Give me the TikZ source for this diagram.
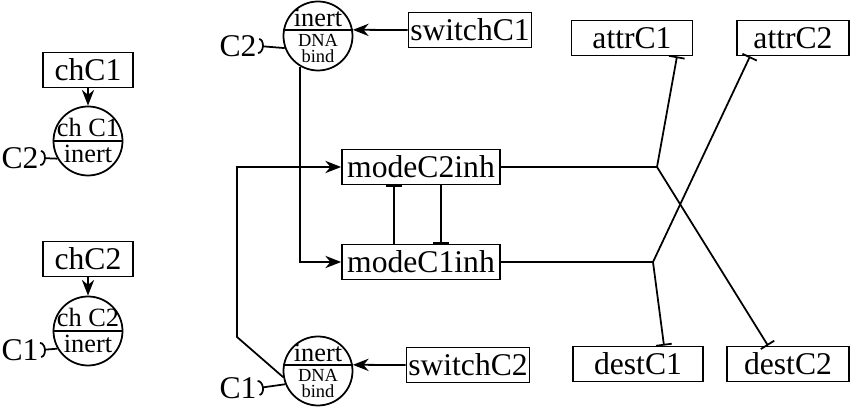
\documentclass[tikz,border=0pt]{standalone}
\usepackage{fontspec}
\setmainfont{Liberation Serif}
\usetikzlibrary{arrows.meta}

\tikzset{
    gene/.style={draw, line width=1pt, minimum height=0.7cm, inner sep=1pt, font=\fontsize{18}{19}\selectfont},
    prot/.style={draw, circle, line width=1pt, minimum size=1.38cm, inner sep=0pt},
    act/.style={line width=1pt, -{Stealth[length=9pt,width=7pt]}},
    inh/.style={line width=1pt, -{Bar[width=9pt]}},
    sig/.style={line width=1pt, {Arc Barb[reversed,length=3pt,width=9pt]}-},
    lbl/.style={font=\fontsize{18}{19}\selectfont, inner sep=1pt},
    uptext/.style={above, inner sep=2pt, font=\fontsize{15}{16}\selectfont},
    lowtext/.style={below, inner sep=2pt, font=\fontsize{15}{16}\selectfont},
    dnatext/.style={below, inner sep=2.5pt, align=center, font=\fontsize{10.5}{9}\selectfont},
}

\begin{document}
\begin{tikzpicture}
    \useasboundingbox (0,0) rectangle (17.02,-8.18);

    \node[gene, minimum width=1.8cm] (chC1) at (1.76,-1.40) {chC1};
    \node[prot] (chp1) at (1.76,-2.82) {};
    \draw[line width=1pt] (chp1.west) -- (chp1.east);
    \node[uptext] (chp1t) at (chp1.center) {ch C1};
    \node[lowtext] (chp1b) at (chp1.center) {inert};
    \node[lbl] (sigC2a) at (0.40,-3.16) {C2};
    \draw[act] (chC1) -- (chp1);
    \draw[sig] (sigC2a.east) -- (chp1.210);

    \node[gene, minimum width=1.8cm] (chC2) at (1.76,-5.18) {chC2};
    \node[prot] (chp2) at (1.76,-6.62) {};
    \draw[line width=1pt] (chp2.west) -- (chp2.east);
    \node[uptext] (chp2t) at (chp2.center) {ch C2};
    \node[lowtext] (chp2b) at (chp2.center) {inert};
    \node[lbl] (sigC1a) at (0.40,-7.00) {C1};
    \draw[act] (chC2) -- (chp2);
    \draw[sig] (sigC1a.east) -- (chp2.210);

    \node[prot] (dna1) at (6.36,-0.72) {};
    \draw[line width=1pt] (dna1.170) -- (dna1.10);
    \node[uptext, inner sep=1.5pt] (dna1t) at (6.36,-0.60) {inert};
    \node[dnatext] (dna1b) at (6.36,-0.60) {DNA\\bind};
    \node[gene, minimum width=2.4cm] (switchC1) at (9.40,-0.60) {switchC1};
    \node[lbl] (sigC2b) at (4.76,-0.92) {C2};
    \draw[act] (switchC1) -- (dna1.10);
    \draw[sig] (sigC2b.east) -- (dna1.200);

    \node[prot] (dna2) at (6.36,-7.42) {};
    \draw[line width=1pt] (dna2.170) -- (dna2.10);
    \node[uptext, inner sep=1.5pt] (dna2t) at (6.36,-7.30) {inert};
    \node[dnatext] (dna2b) at (6.36,-7.30) {DNA\\bind};
    \node[gene, minimum width=2.46cm] (switchC2) at (9.36,-7.30) {switchC2};
    \node[lbl] (sigC1b) at (4.76,-7.76) {C1};
    \draw[act] (switchC2) -- (dna2.10);
    \draw[sig] (sigC1b.east) -- (dna2.202);

    \node[gene, minimum width=3.16cm] (modeC2) at (8.42,-3.34) {modeC2inh};
    \node[gene, minimum width=3.16cm] (modeC1) at (8.42,-5.24) {modeC1inh};
    \coordinate (bend) at (4.74,-6.74);
    \draw[act] (dna1.240) |- (modeC1);
    \draw[act] (dna2.190) -- (bend) |- (modeC2);
    \draw[inh] ([xshift=-0.54cm]modeC1.north) -- ([xshift=-0.54cm]modeC2.south);
    \draw[inh] ([xshift=0.40cm]modeC2.south) -- ([xshift=0.40cm]modeC1.north);

    \node[gene, minimum width=2.42cm] (attrC1) at (12.64,-0.76) {attrC1};
    \node[gene, minimum width=2.24cm] (attrC2) at (15.86,-0.76) {attrC2};
    \node[gene, minimum width=2.60cm] (destC1) at (12.76,-7.28) {destC1};
    \node[gene, minimum width=2.44cm] (destC2) at (15.76,-7.28) {destC2};

    \coordinate (j2) at (13.14,-3.34);
    \coordinate (j1) at (13.06,-5.24);
    \draw[line width=1pt] (modeC2) -- (j2);
    \draw[line width=1pt] (modeC1) -- (j1);
    \draw[inh] (j2) -- ([xshift=0.90cm]attrC1.south);
    \draw[inh] (j2) -- ([xshift=-0.40cm]destC2.north);
    \draw[inh] (j1) -- ([xshift=-0.86cm]attrC2.south);
    \draw[inh] (j1) -- ([xshift=0.52cm]destC1.north);
\end{tikzpicture}
\end{document}
